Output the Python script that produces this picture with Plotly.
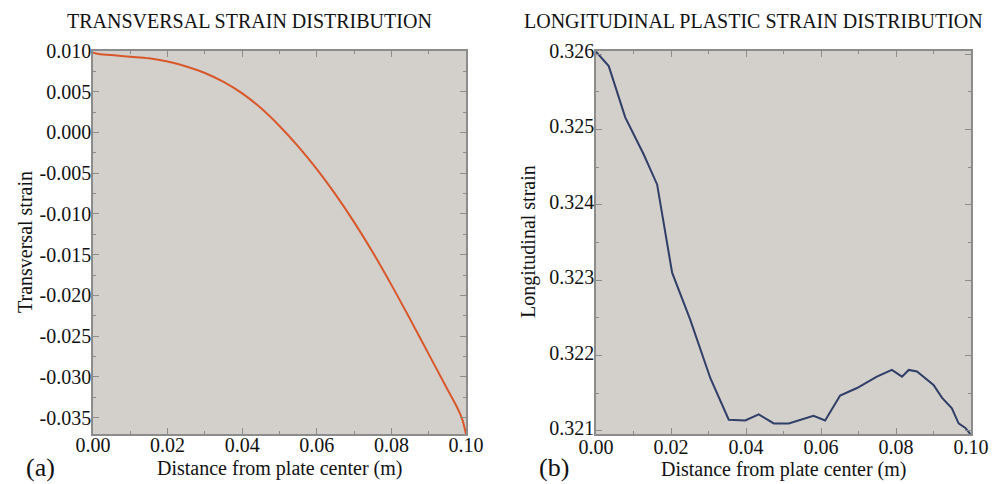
import plotly.graph_objects as go

# Left panel: transversal strain
trans_x = [0.0, 0.002, 0.005, 0.01, 0.015, 0.02, 0.025, 0.03, 0.035, 0.04, 0.045,
           0.05, 0.055, 0.06, 0.065, 0.07, 0.075, 0.08, 0.085, 0.09, 0.095,
           0.098, 0.099, 0.1]
trans_y = [0.0098, 0.0096, 0.0095, 0.0093, 0.0091, 0.0087, 0.0081, 0.0073, 0.0062,
           0.0048, 0.0030, 0.0008, -0.0017, -0.0045, -0.0076, -0.0110, -0.0147,
           -0.0187, -0.0229, -0.0272, -0.0315, -0.0341, -0.0352, -0.0370]

# Right panel: longitudinal plastic strain
long_x = [0.0, 0.0034, 0.0078, 0.0127, 0.0163, 0.0203, 0.0251, 0.0305, 0.0354,
          0.0398, 0.0434, 0.0474, 0.0514, 0.0545, 0.0580, 0.0611, 0.0651, 0.0696,
          0.0749, 0.0789, 0.0816, 0.0834, 0.0856, 0.0900, 0.0923, 0.0949, 0.0967,
          0.0985, 0.0998]
long_y = [0.32603, 0.32584, 0.32516, 0.32467, 0.32427, 0.32310, 0.32248, 0.32170,
          0.32115, 0.32114, 0.32122, 0.32110, 0.32110, 0.32115, 0.32120, 0.32114,
          0.32147, 0.32157, 0.32172, 0.32181, 0.32172, 0.32181, 0.32179, 0.32161,
          0.32144, 0.32130, 0.32110, 0.32104, 0.32096]

x_ticks = [0.0, 0.02, 0.04, 0.06, 0.08, 0.10]
x_tick_labels = ["0.00", "0.02", "0.04", "0.06", "0.08", "0.10"]
trans_ticks = [0.010, 0.005, 0.0, -0.005, -0.010, -0.015, -0.020, -0.025, -0.030, -0.035]
trans_tick_labels = ["0.010", "0.005", "0.000", "-0.005", "-0.010", "-0.015",
                     "-0.020", "-0.025", "-0.030", "-0.035"]
long_ticks = [0.321, 0.322, 0.323, 0.324, 0.325, 0.326]
long_tick_labels = ["0.321", "0.322", "0.323", "0.324", "0.325", "0.326"]

W, H = 1005, 484
FONT = "Liberation Serif"
BG = "#d3cfcb"
FRAME = "#8c8c8c"

fig = go.Figure()
fig.add_trace(go.Scatter(x=trans_x, y=trans_y, mode="lines",
                         line=dict(color="#d8582b", width=2, shape="spline", smoothing=1.0),
                         xaxis="x", yaxis="y", showlegend=False))
fig.add_trace(go.Scatter(x=long_x, y=long_y, mode="lines",
                         line=dict(color="#2f3f68", width=2), xaxis="x2", yaxis="y2",
                         showlegend=False))

def px_x(p):
    return p / W

def px_y(p):
    return 1 - p / H

def axis_style():
    return dict(showline=True, linecolor=FRAME, linewidth=1.5, mirror="ticks",
                ticks="inside", ticklen=6, tickcolor=FRAME, tickwidth=1,
                showgrid=False, zeroline=False, automargin=False,
                tickfont=dict(family=FONT, size=20, color="#111111"),
                minor=dict(ticks="inside", ticklen=3, tickcolor=FRAME, showgrid=False))

fig.update_layout(
    width=W, height=H, margin=dict(l=0, r=0, t=0, b=0, pad=0),
    paper_bgcolor="white", plot_bgcolor=BG,
    font=dict(family=FONT, size=20, color="#111111"),
    xaxis=dict(domain=[px_x(93), px_x(466)], range=[0, 0.1], anchor="y",
               tickvals=x_ticks, ticktext=x_tick_labels, ticklabelstandoff=-8,
               **axis_style()),
    yaxis=dict(domain=[px_y(434), px_y(51)], range=[-0.037, 0.010], anchor="x",
               tickvals=trans_ticks, ticktext=trans_tick_labels, ticklabelstandoff=-4,
               **axis_style()),
    xaxis2=dict(domain=[px_x(596), px_x(971)], range=[0, 0.1], anchor="y2",
                tickvals=x_ticks, ticktext=x_tick_labels, ticklabelstandoff=-6,
                **axis_style()),
    yaxis2=dict(domain=[px_y(434), px_y(51)], range=[0.32096, 0.32604], anchor="x2",
                tickvals=long_ticks, ticktext=long_tick_labels, ticklabelstandoff=-4,
                ticklabelshift=-3, **axis_style()),
)

fig.update_xaxes(minor=dict(dtick=0.01, tick0=0))
fig.update_layout(yaxis=dict(minor=dict(dtick=0.0025, tick0=0)),
                  yaxis2=dict(minor=dict(dtick=0.0005, tick0=0.321)))

def ann(text, x, y, size, angle=0):
    fig.add_annotation(text=text, x=px_x(x), y=px_y(y), xref="paper", yref="paper",
                       showarrow=False, textangle=angle,
                       font=dict(family=FONT, size=size, color="#111111"),
                       xanchor="center", yanchor="middle")

ann("TRANSVERSAL STRAIN DISTRIBUTION", 249, 21, 20)
ann("LONGITUDINAL PLASTIC STRAIN DISTRIBUTION", 753, 21, 20)
ann("Transversal strain", 25, 242, 20, -90)
ann("Longitudinal strain", 528, 242, 20, -90)
ann("Distance from plate center (m)", 279, 468, 20)
ann("Distance from plate center (m)", 783, 469, 20)
ann("(a)", 40, 467, 26)
ann("(b)", 554, 467, 26)

fig.write_html("out.html")
